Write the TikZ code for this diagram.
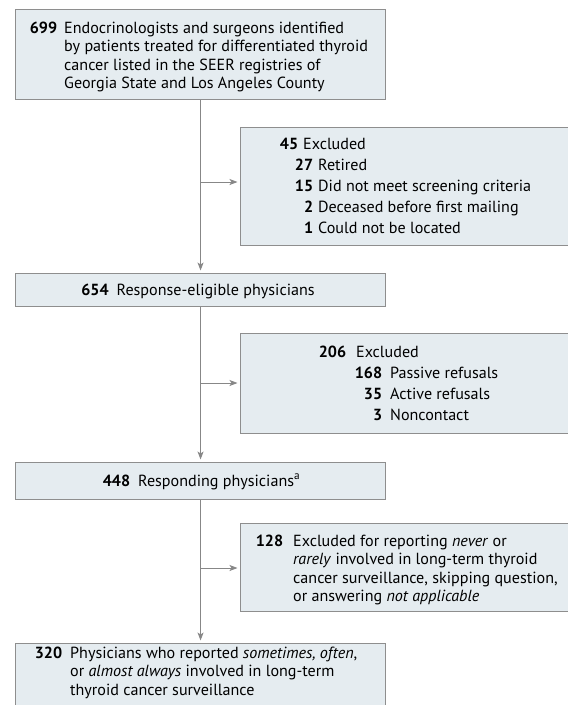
\documentclass[tikz,border=0pt]{standalone}
\usepackage{fontspec}
\setmainfont{PT Sans}
\usetikzlibrary{arrows.meta}
\definecolor{boxfill}{HTML}{E5ECF0}
\definecolor{boxline}{HTML}{8E8E8E}
\definecolor{arrline}{HTML}{878787}
\newcommand{\nb}[2]{\makebox[#1][r]{\bfseries #2}}
\newcommand{\fsA}{\fontsize{16.1}{18.5}\selectfont}
\newcommand{\fsB}{\fontsize{16.1}{21.2}\selectfont}
\begin{document}
\begin{tikzpicture}[x=1pt,y=-1pt,
  box/.style={draw=boxline, fill=boxfill, line width=1.1pt, inner sep=0pt, anchor=north west, rectangle},
  txt/.style={inner sep=0pt, anchor=base west, font=\fsA, text=black},
  txtB/.style={txt, font=\fsB},
  conn/.style={draw=arrline, line width=0.9pt},
  arr/.style={conn, -{Stealth[length=8pt,width=6pt,inset=2pt]}, shorten >=2.5pt}]
\useasboundingbox (0,0) rectangle (568,705);
\fill[white] (0,0) rectangle (568,705);
\begin{scope}
\clip (0,0) rectangle (568,705);
% boxes
\node[box, minimum width=370pt, minimum height=90pt]  (B1) at (15,9) {};
\node[box, minimum width=335pt, minimum height=118pt] (E1) at (240,127) {};
\node[box, minimum width=370pt, minimum height=33pt]  (B2) at (15,273) {};
\node[box, minimum width=335pt, minimum height=100pt] (E2) at (240,333) {};
\node[box, minimum width=370pt, minimum height=37pt]  (B3) at (15,462) {};
\node[box, minimum width=335pt, minimum height=88pt]  (E3) at (240,523) {};
\node[box, minimum width=370pt, minimum height=90pt]  (B4) at (15,643) {};
% connectors
\coordinate (j1) at (200,182);
\coordinate (j2) at (200,383);
\coordinate (j3) at (200,568);
\draw[arr] (B1.south) -- (B2.north);
\draw[arr] (B2.south) -- (B3.north);
\draw[arr] (B3.south) -- (B4.north);
\draw[arr] (j1) -- (j1 -| E1.west);
\draw[arr] (j2) -- (j2 -| E2.west);
\draw[arr] (j3) -- (j3 -| E3.west);
% texts
\node[txt] (T1) at (29,33) {\begin{tabular}[t]{@{}l@{}}
\nb{28pt}{699}\hspace{7pt}Endocrinologists and surgeons identified\\
\hspace*{35pt}by patients treated for differentiated thyroid\\
\hspace*{35pt}cancer listed in the SEER registries of\\
\hspace*{35pt}Georgia State and Los Angeles County
\end{tabular}};
\node[txtB] (TE1) at (275,149) {\begin{tabular}[t]{@{}l@{}}
\nb{23pt}{45}\hspace{5pt}Excluded\\
\hspace*{15pt}\nb{23pt}{27}\hspace{5pt}Retired\\
\hspace*{15pt}\nb{23pt}{15}\hspace{5pt}Did not meet screening criteria\\
\hspace*{15pt}\nb{23pt}{2}\hspace{5pt}Deceased before first mailing\\
\hspace*{15pt}\nb{23pt}{1}\hspace{5pt}Could not be located
\end{tabular}};
\node[txt, anchor=base] (T2) at (198,295) {\textbf{654}\hspace{8pt}Response-eligible physicians};
\node[txtB] (TE2) at (320,357) {\begin{tabular}[t]{@{}l@{}}
\nb{26pt}{206}\hspace{10pt}Excluded\\
\hspace*{36pt}\nb{26pt}{168}\hspace{8pt}Passive refusals\\
\hspace*{36pt}\nb{26pt}{35}\hspace{8pt}Active refusals\\
\hspace*{36pt}\nb{26pt}{3}\hspace{8pt}Noncontact
\end{tabular}};
\node[txt, anchor=base] (T3) at (201.5,486) {\textbf{448}\hspace{8pt}Responding physicians\textsuperscript{a}};
\node[txt] (TE3) at (258,546) {\begin{tabular}[t]{@{}l@{}}
\nb{25pt}{128}\hspace{10pt}Excluded for reporting \textit{never} or\\
\hspace*{35pt}\textit{rarely} involved in long-term thyroid\\
\hspace*{35pt}cancer surveillance, skipping question,\\
\hspace*{35pt}or answering \textit{not applicable}
\end{tabular}};
\node[txt] (T4) at (35,658) {\begin{tabular}[t]{@{}l@{}}
\nb{27pt}{320}\hspace{8pt}Physicians who reported \textit{sometimes, often},\\
\hspace*{35pt}or \textit{almost always} involved in long-term\\
\hspace*{35pt}thyroid cancer surveillance
\end{tabular}};
\end{scope}
\end{tikzpicture}
\end{document}
